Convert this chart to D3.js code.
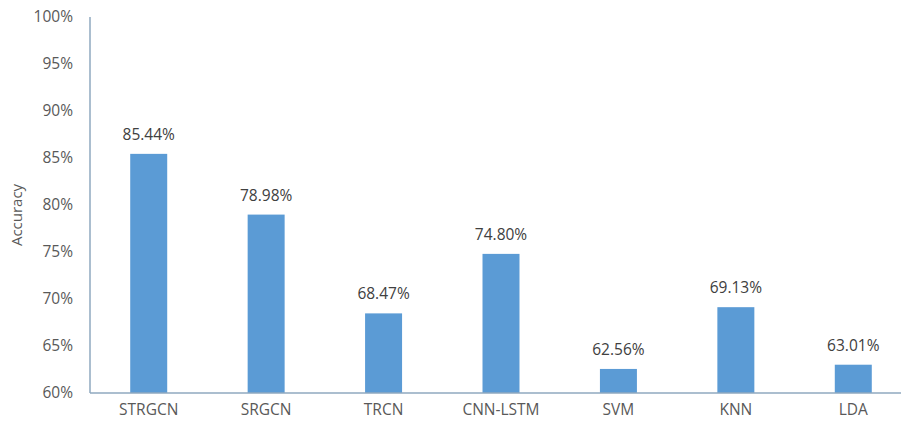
<!DOCTYPE html>
<html><head><meta charset="utf-8">
<script src="https://cdn.jsdelivr.net/npm/d3@7"></script>
<style>body{margin:0;background:#fff}svg{display:block}text{font-family:"Open Sans",sans-serif}</style>
</head><body><svg id="c" width="901" height="427"></svg>
<script>
const categories = ["STRGCN","SRGCN","TRCN","CNN-LSTM","SVM","KNN","LDA"];
const accuracy = [85.44,78.98,68.47,74.80,62.56,69.13,63.01];
const yTicks = [60,65,70,75,80,85,90,95,100];

const svg = d3.select("#c");
const x = d3.scaleBand().domain(categories).range([90,912]).paddingInner(0.685).paddingOuter(0.3425);
const y = d3.scaleLinear().domain([60,100]).range([393,17]);

svg.append("g").selectAll("text").data(yTicks).join("text")
  .attr("x",73).attr("y",d=>y(d)).attr("dy","0.35em").attr("text-anchor","end")
  .attr("font-size",15.5).attr("fill","#595959").text(d=>d+"%");

svg.append("g").selectAll("rect").data(categories).join("rect")
  .attr("x",d=>x(d)).attr("width",x.bandwidth())
  .attr("y",(d,i)=>y(accuracy[i])).attr("height",(d,i)=>y(60)-y(accuracy[i]))
  .attr("fill","#5B9BD5");

svg.append("g").selectAll("text").data(categories).join("text")
  .attr("x",d=>x(d)+x.bandwidth()/2).attr("y",(d,i)=>y(accuracy[i])-14)
  .attr("text-anchor","middle").attr("font-size",15.5).attr("fill","#404040")
  .text((d,i)=>accuracy[i].toFixed(2)+"%");

svg.append("line").attr("x1",90).attr("x2",90).attr("y1",y(100)).attr("y2",y(60))
  .attr("stroke","#8FA9BF").attr("stroke-width",1.5);
svg.append("line").attr("x1",90).attr("x2",901).attr("y1",y(60)).attr("y2",y(60))
  .attr("stroke","#8FA9BF").attr("stroke-width",1.5);

svg.append("g").selectAll("text").data(categories).join("text")
  .attr("x",d=>x(d)+x.bandwidth()/2).attr("y",410).attr("dy","0.35em")
  .attr("text-anchor","middle").attr("font-size",15.5).attr("fill","#595959").text(d=>d);

svg.append("text").attr("transform","translate(17,215) rotate(-90)")
  .attr("text-anchor","middle").attr("dy","0.35em").attr("font-size",15).attr("fill","#595959").text("Accuracy");
</script></body></html>
